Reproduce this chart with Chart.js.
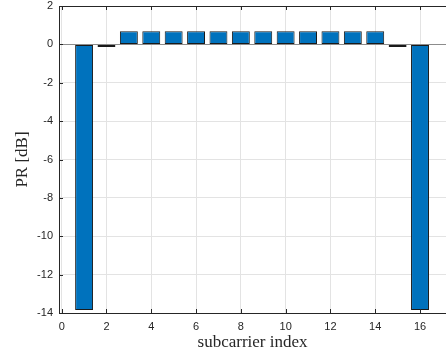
<!DOCTYPE html>
<html>
<head>
<meta charset="utf-8">
<script src="https://cdn.jsdelivr.net/npm/chart.js@4"></script>
<style>
  html, body { margin: 0; padding: 0; background: #fff; }
  #wrap { width: 446px; height: 356px; }
</style>
</head>
<body>
<div id="wrap"><canvas id="prChart"></canvas></div>
<script>
// subcarrier indices and power ratio per subcarrier (dB)
const subcarriers = [1, 2, 3, 4, 5, 6, 7, 8, 9, 10, 11, 12, 13, 14, 15, 16];
const prValues = [-13.85, -0.14, 0.68, 0.68, 0.68, 0.68, 0.68, 0.68, 0.68, 0.68, 0.68, 0.68, 0.68, 0.68, -0.14, -13.85];
const xTicks = [0, 2, 4, 6, 8, 10, 12, 14, 16];
const yTicks = [2, 0, -2, -4, -6, -8, -10, -12, -14];

const axisColor = '#262626';
const gridColor = '#e3e3e3';

// matlab-style frame: top line plus short inward ticks
const boxTicks = {
  id: 'boxTicks',
  afterDraw(chart) {
    const { ctx, chartArea: a, scales } = chart;
    const len = 4;
    ctx.save();
    ctx.strokeStyle = axisColor;
    ctx.lineWidth = 1;
    ctx.beginPath();
    ctx.moveTo(a.left, a.top + 0.5);
    ctx.lineTo(a.right, a.top + 0.5);
    xTicks.forEach(v => {
      const px = Math.round(scales.x.getPixelForValue(v)) + 0.5;
      ctx.moveTo(px, a.bottom);
      ctx.lineTo(px, a.bottom - len);
      ctx.moveTo(px, a.top);
      ctx.lineTo(px, a.top + len);
    });
    yTicks.forEach(v => {
      const py = Math.round(scales.y.getPixelForValue(v)) + 0.5;
      ctx.moveTo(a.left, py);
      ctx.lineTo(a.left + len, py);
    });
    ctx.stroke();
    ctx.restore();
  }
};

const tickFont = { family: 'Liberation Sans, Arial, sans-serif', size: 11 };
const titleFont = { family: 'Liberation Serif, Times New Roman, serif', size: 17 };

new Chart(document.getElementById('prChart'), {
  type: 'bar',
  data: {
    datasets: [{
      data: subcarriers.map((s, i) => ({ x: s, y: prValues[i] })),
      backgroundColor: '#0072bd',
      borderColor: '#1a1a1a',
      borderWidth: 1,
      borderSkipped: false,
      barPercentage: 1,
      categoryPercentage: 0.8
    }]
  },
  options: {
    responsive: true,
    maintainAspectRatio: false,
    animation: false,
    layout: { padding: { top: 6, left: 0, right: 0, bottom: 0 } },
    plugins: { legend: { display: false }, tooltip: { enabled: false } },
    scales: {
      x: {
        type: 'linear',
        offset: false,
        min: -0.12,
        max: 17.16,
        afterFit: s => { s.height = 43; s.paddingLeft = 0; s.paddingRight = 0; },
        afterBuildTicks: s => { s.ticks = xTicks.map(v => ({ value: v })); },
        grid: { color: gridColor, drawTicks: false, offset: false },
        border: { display: true, color: axisColor, width: 1 },
        ticks: { color: axisColor, font: tickFont, padding: 7, maxRotation: 0 },
        title: {
          display: true,
          text: 'subcarrier index',
          color: axisColor,
          font: titleFont,
          padding: { top: 0, bottom: 3 }
        }
      },
      y: {
        min: -14,
        max: 2,
        afterFit: s => { s.width = 59; s.paddingTop = 0; s.paddingBottom = 0; },
        afterBuildTicks: s => { s.ticks = yTicks.map(v => ({ value: v })); },
        grid: {
          drawTicks: false,
          color: ctx => (ctx.tick && ctx.tick.value === 0 ? '#8c8c8c' : gridColor)
        },
        border: { display: true, color: axisColor, width: 1 },
        ticks: { color: axisColor, font: tickFont, padding: 6 },
        title: {
          display: true,
          text: 'PR [dB]',
          color: axisColor,
          font: titleFont,
          padding: { top: 12, bottom: 0 }
        }
      }
    }
  },
  plugins: [boxTicks]
});
</script>
</body>
</html>
